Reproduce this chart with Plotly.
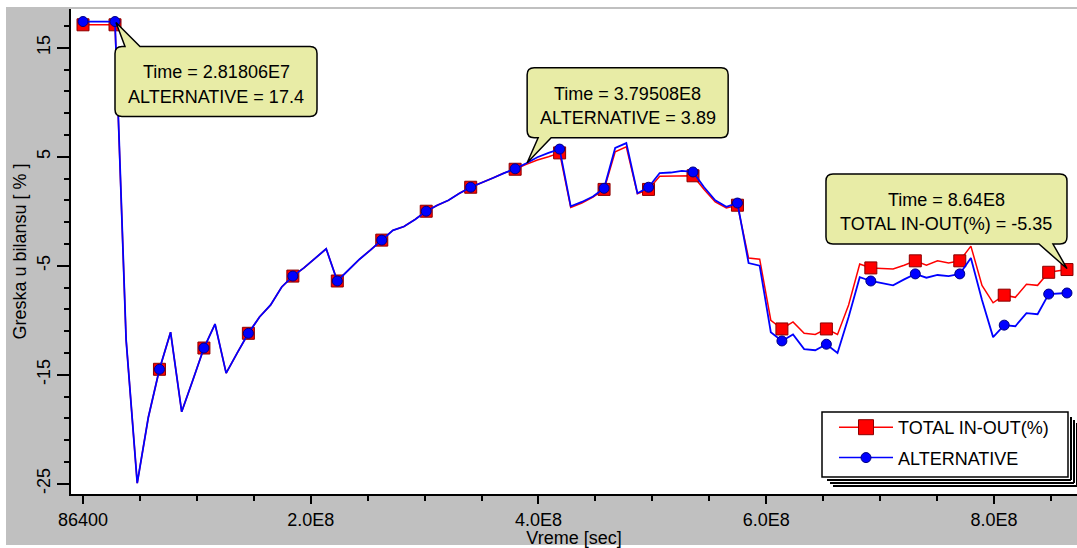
import plotly.graph_objects as go

# ---------------- data ----------------
time_s = [
    86400, 28.1806e6, 37.94e6, 47.70e6, 57.46e6, 67.22e6, 76.98e6, 86.73e6, 96.49e6,
    106.25e6, 116.01e6, 125.77e6, 135.53e6, 145.29e6, 155.05e6, 164.81e6, 174.57e6,
    184.33e6, 194.08e6, 203.84e6, 213.60e6, 223.36e6, 233.12e6, 242.88e6, 252.64e6,
    262.40e6, 272.16e6, 281.92e6, 291.67e6, 301.43e6, 311.19e6, 320.95e6, 330.71e6,
    340.47e6, 350.23e6, 359.99e6, 369.75e6, 379.508e6, 389.27e6, 399.02e6, 408.78e6,
    418.54e6, 428.30e6, 438.06e6, 447.82e6, 457.58e6, 467.34e6, 477.10e6, 486.86e6,
    496.61e6, 506.37e6, 516.13e6, 525.89e6, 535.65e6, 545.41e6, 555.17e6, 564.93e6,
    574.69e6, 584.45e6, 594.20e6, 603.96e6, 613.72e6, 623.48e6, 633.24e6, 643.00e6,
    652.76e6, 662.52e6, 672.28e6, 682.04e6, 691.79e6, 701.55e6, 711.31e6, 721.07e6,
    730.83e6, 740.59e6, 750.35e6, 760.11e6, 769.87e6, 779.63e6, 789.38e6, 799.14e6,
    808.90e6, 818.66e6, 828.42e6, 838.18e6, 847.94e6, 864.00e6,
]

total_in_out = [
    17.1, 17.1, -11.8, -24.95, -18.9, -14.5, -11.1, -18.4, -15.5, -12.55,
    -10.35, -14.85, -13.0, -11.2, -9.7, -8.6, -6.95, -5.95, -5.2, -4.35,
    -3.45, -6.4, -5.4, -4.4, -3.55, -2.65, -1.75, -1.4, -0.75, 0.0,
    0.55, 1.0, 1.65, 2.2, 2.6, 3.05, 3.5, 3.85, 4.3, 4.7,
    5.0, 5.35, 0.35, 0.75, 1.3, 2.0, 5.45, 5.9, 1.6, 2.0,
    3.2, 3.2, 3.2, 3.25, 2.0, 0.85, 0.3, 0.55, -4.3, -4.4,
    -10.0, -10.8, -10.15, -11.2, -11.3, -10.8, -11.3, -8.6, -4.85, -5.2,
    -5.25, -5.3, -4.95, -4.55, -4.95, -4.55, -4.75, -4.55, -3.2, -6.8,
    -8.4, -7.7, -7.9, -6.7, -6.8, -5.6, -5.35,
]

alternative = [
    17.4, 17.4, -11.8, -24.95, -18.9, -14.5, -11.1, -18.4, -15.5, -12.55,
    -10.35, -14.85, -13.0, -11.2, -9.7, -8.6, -6.95, -5.95, -5.2, -4.35,
    -3.45, -6.4, -5.4, -4.4, -3.55, -2.65, -1.75, -1.4, -0.75, 0.0,
    0.55, 1.0, 1.65, 2.2, 2.6, 3.05, 3.5, 3.89, 4.4, 4.95,
    5.35, 5.7, 0.45, 0.85, 1.35, 2.1, 5.8, 6.25, 1.65, 2.2,
    3.5, 3.55, 3.7, 3.6, 2.2, 1.0, 0.4, 0.75, -4.75, -5.0,
    -11.1, -11.9, -11.3, -12.65, -12.75, -12.2, -13.0, -9.7, -6.05, -6.4,
    -6.6, -6.8, -6.25, -5.75, -6.1, -5.85, -5.95, -5.75, -4.3, -8.15,
    -11.55, -10.45, -10.55, -9.35, -9.45, -7.6, -7.5,
]

# indices of the points that carry a symbol
marker_idx = [0] + list(range(1, 86, 4)) + [86]

x_tick_vals = [86400, 2e8, 4e8, 6e8, 8e8]
x_tick_text = ["86400", "2.0E8", "4.0E8", "6.0E8", "8.0E8"]
x_minor_vals = [5e7, 1e8, 1.5e8, 2.5e8, 3e8, 3.5e8, 4.5e8, 5e8, 5.5e8, 6.5e8, 7e8, 7.5e8, 8.5e8]
y_tick_vals = [-25, -15, -5, 5, 15]
y_tick_text = ["-25", "-15", "-5", "5", "15"]
y_minor_vals = [v for v in range(-25, 19, 2) if v not in y_tick_vals]

# callouts: (series, point index, text lines)
callouts = [
    ("alt", 1, ["Time = 2.81806E7", "ALTERNATIVE = 17.4"]),
    ("alt", 37, ["Time = 3.79508E8", "ALTERNATIVE = 3.89"]),
    ("tot", 86, ["Time = 8.64E8", "TOTAL IN-OUT(%) = -5.35"]),
]

# ---------------- layout geometry ----------------
W, H = 1077, 548
ML, MR, MT, MB = 71, 0, 9, 54
FONT = "Liberation Sans, Arial, sans-serif"
GRAY = "#c0c0c0"
BOXFILL = "#e8eca6"


def px(xp):
    return (xp - ML) / (W - ML - MR)


def py(yp):
    return (H - MB - yp) / (H - MT - MB)


def callout_path(x0, y0, x1, y1, r, side, b0, b1, tip):
    """rounded box with a wedge; pixel offsets, y measured downward"""
    pts = []
    pts.append(("M", (x0 + r, y0)))
    if side == "top":
        pts += [("L", (b0, y0)), ("L", tip), ("L", (b1, y0))]
    pts.append(("L", (x1 - r, y0)))
    pts.append(("Q", (x1, y0), (x1, y0 + r)))
    pts.append(("L", (x1, y1 - r)))
    pts.append(("Q", (x1, y1), (x1 - r, y1)))
    if side == "bottom":
        pts += [("L", (b1, y1)), ("L", tip), ("L", (b0, y1))]
    pts.append(("L", (x0 + r, y1)))
    pts.append(("Q", (x0, y1), (x0, y1 - r)))
    pts.append(("L", (x0, y0 + r)))
    pts.append(("Q", (x0, y0), (x0 + r, y0)))
    s = ""
    for item in pts:
        cmd = item[0]
        coords = " ".join(f"{p[0]:.1f},{-p[1]:.1f}" for p in item[1:])
        s += f"{cmd}{coords} "
    return s + "Z"


# box geometry per callout: (x0, y0, x1, y1, side, b0, b1, tip) in px relative to point
box_geom = [
    (0, 25, 202, 95, "top", 10, 25, (1, 1)),
    (12, -101, 213, -31, "bottom", 23, 36, (12, -6)),
    (-241, -95.5, 0, -25.5, "bottom", -28, -14, (0, -1)),
]

fig = go.Figure()

mx = [time_s[i] for i in marker_idx]

fig.add_trace(go.Scatter(x=time_s, y=total_in_out, mode="lines",
                         line=dict(color="#ff0000", width=1.5), showlegend=False,
                         hoverinfo="skip"))
fig.add_trace(go.Scatter(x=mx, y=[total_in_out[i] for i in marker_idx], mode="markers",
                         marker=dict(symbol="square", size=12, color="#ff0000",
                                     line=dict(color="#8b0000", width=1)),
                         showlegend=False))
fig.add_trace(go.Scatter(x=time_s, y=alternative, mode="lines",
                         line=dict(color="#0000ff", width=1.8), showlegend=False,
                         hoverinfo="skip"))
fig.add_trace(go.Scatter(x=mx, y=[alternative[i] for i in marker_idx], mode="markers",
                         marker=dict(symbol="circle", size=10, color="#0000ff",
                                     line=dict(color="#000080", width=1)),
                         showlegend=False))
# legend entries
fig.add_trace(go.Scatter(x=[None], y=[None], mode="lines+markers", name="TOTAL IN-OUT(%)",
                         legendgroup="a",
                         line=dict(color="#ff0000", width=1.5),
                         marker=dict(symbol="square", size=15, color="#ff0000",
                                     line=dict(color="#8b0000", width=1))))
fig.add_trace(go.Scatter(x=[None], y=[None], mode="lines+markers", name="ALTERNATIVE",
                         legendgroup="b",
                         line=dict(color="#0000ff", width=1.5),
                         marker=dict(symbol="circle", size=10, color="#0000ff",
                                     line=dict(color="#000080", width=1))))

shapes = []
# white outer margins around the gray frame
shapes.append(dict(type="rect", xref="paper", yref="paper", x0=px(-2), x1=px(6),
                   y0=py(H + 2), y1=py(-2), fillcolor="white", line=dict(width=0), layer="above"))
shapes.append(dict(type="rect", xref="paper", yref="paper", x0=px(-2), x1=px(W + 2),
                   y0=py(7), y1=py(-2), fillcolor="white", line=dict(width=0), layer="above"))
shapes.append(dict(type="rect", xref="paper", yref="paper", x0=px(-2), x1=px(W + 2),
                   y0=py(H + 2), y1=py(545), fillcolor="white", line=dict(width=0), layer="above"))

# legend shadow and box
for k in range(3):
    off = 3 + 3 * k
    shapes.append(dict(type="line", xref="paper", yref="paper",
                       x0=px(822 + off + 2), x1=px(1068 + off), y0=py(477 + off), y1=py(477 + off),
                       line=dict(color="black", width=2), layer="above"))
    shapes.append(dict(type="line", xref="paper", yref="paper",
                       x0=px(1068 + off), x1=px(1068 + off), y0=py(477 + off), y1=py(412 + off + 2),
                       line=dict(color="black", width=2), layer="above"))
shapes.append(dict(type="rect", xref="paper", yref="paper", x0=px(822), x1=px(1068),
                   y0=py(477), y1=py(412), fillcolor="white",
                   line=dict(color="black", width=1.5), layer="above"))

annotations = []
for (series, idx, lines), (x0, y0, x1, y1, side, b0, b1, tip) in zip(callouts, box_geom):
    xv = time_s[idx]
    yv = alternative[idx] if series == "alt" else total_in_out[idx]
    shapes.append(dict(type="path", xref="x", yref="y", xsizemode="pixel", ysizemode="pixel",
                       xanchor=xv, yanchor=yv,
                       path=callout_path(x0, y0, x1, y1, 7, side, b0, b1, tip),
                       fillcolor=BOXFILL, line=dict(color="black", width=1.5), layer="above"))
    cx = (x0 + x1) / 2
    cy = (y0 + y1) / 2 + 3
    for j, txt in enumerate(lines):
        dy = cy - 12.3 + 24.6 * j
        annotations.append(dict(x=xv, y=yv, xref="x", yref="y", text=txt, showarrow=False,
                                xanchor="center", yanchor="middle", xshift=cx, yshift=-dy,
                                font=dict(family=FONT, size=18, color="black")))

fig.update_layout(
    width=W, height=H,
    margin=dict(l=ML, r=MR, t=MT, b=MB, pad=0),
    paper_bgcolor=GRAY, plot_bgcolor="white",
    font=dict(family=FONT, size=18, color="black"),
    shapes=shapes, annotations=annotations,
    showlegend=True,
    legend=dict(x=px(834), y=py(409), xanchor="left", yanchor="top",
                bgcolor="rgba(0,0,0,0)", borderwidth=0, itemwidth=54,
                tracegroupgap=4, traceorder="grouped",
                font=dict(family=FONT, size=18, color="black")),
    xaxis=dict(range=[-1.045e7, 8.728e8], showgrid=False, zeroline=False,
               showline=True, linecolor="black", linewidth=2,
               tickmode="array", tickvals=x_tick_vals, ticktext=x_tick_text,
               ticks="outside", ticklen=8, tickwidth=1.5, tickcolor="black",
               tickfont=dict(family=FONT, size=18),
               minor=dict(tickmode="array", tickvals=x_minor_vals, ticks="outside",
                          ticklen=5, tickwidth=1.5, tickcolor="black", showgrid=False),
               title=dict(text="Vreme [sec]", font=dict(family=FONT, size=18), standoff=6)),
    yaxis=dict(range=[-25.94, 18.55], showgrid=False, zeroline=False,
               showline=True, linecolor="black", linewidth=2,
               tickmode="array", tickvals=y_tick_vals, ticktext=y_tick_text, tickangle=-90,
               ticks="outside", ticklen=12, tickwidth=1.5, tickcolor="black",
               tickfont=dict(family=FONT, size=18),
               minor=dict(tickmode="array", tickvals=y_minor_vals, ticks="outside",
                          ticklen=5, tickwidth=1.5, tickcolor="black", showgrid=False),
               title=dict(text="Greska u bilansu [ % ]", font=dict(family=FONT, size=18),
                          standoff=2)),
)

fig.write_html("out.html")
